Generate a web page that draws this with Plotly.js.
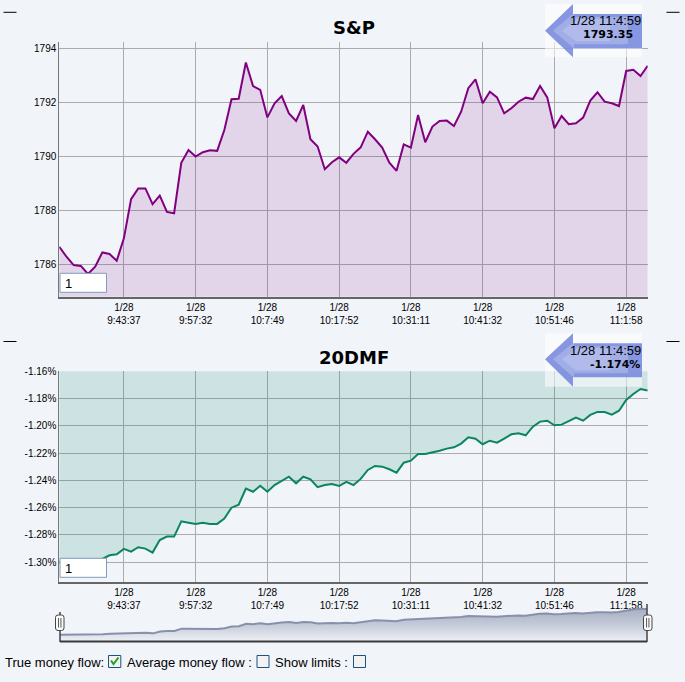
<!DOCTYPE html>
<html>
<head>
<meta charset="utf-8">
<script src="https://cdn.plot.ly/plotly-3.0.1.min.js"></script>
<style>
  html, body { margin: 0; padding: 0; background: #f1f4f9; }
  #chart { width: 685px; height: 682px; }
</style>
</head>
<body>
<div id="chart"></div>
<script>
// ---------- DATA ----------
const spxValues = [
  1786.65, 1786.28, 1785.97, 1785.94, 1785.64, 1785.91, 1786.44, 1786.38, 1786.13, 1786.96,
  1788.41, 1788.81, 1788.81, 1788.23, 1788.54, 1787.94, 1787.89, 1789.76, 1790.23, 1789.99,
  1790.15, 1790.22, 1790.20, 1790.97, 1792.11, 1792.13, 1793.47, 1792.60, 1792.46, 1791.44,
  1791.96, 1792.23, 1791.59, 1791.31, 1791.90, 1790.63, 1790.36, 1789.52, 1789.78, 1789.96,
  1789.76, 1790.09, 1790.33, 1790.91, 1790.63, 1790.32, 1789.76, 1789.46, 1790.44, 1790.32,
  1791.53, 1790.52, 1791.10, 1791.31, 1791.32, 1791.12, 1791.65, 1792.52, 1792.85, 1791.96,
  1792.39, 1792.18, 1791.59, 1791.78, 1792.02, 1792.17, 1792.12, 1792.60, 1792.18, 1791.04,
  1791.49, 1791.19, 1791.22, 1791.43, 1792.06, 1792.37, 1792.02, 1791.96, 1791.86, 1793.16,
  1793.20, 1792.97, 1793.35
];
const dmfValues = [
  -1.3000, -1.3000, -1.3010, -1.3000, -1.2990, -1.2980, -1.2976, -1.2949, -1.2942, -1.2902,
  -1.2922, -1.2890, -1.2900, -1.2929, -1.2837, -1.2812, -1.2812, -1.2700, -1.2710, -1.2719,
  -1.2710, -1.2719, -1.2719, -1.2680, -1.2600, -1.2578, -1.2460, -1.2483, -1.2439, -1.2483,
  -1.2434, -1.2402, -1.2373, -1.2421, -1.2373, -1.2392, -1.2450, -1.2434, -1.2426, -1.2441,
  -1.2411, -1.2434, -1.2389, -1.2323, -1.2294, -1.2299, -1.2318, -1.2343, -1.2270, -1.2255,
  -1.2206, -1.2206, -1.2196, -1.2182, -1.2167, -1.2157, -1.2130, -1.2084, -1.2094, -1.2135,
  -1.2109, -1.2123, -1.2094, -1.2062, -1.2054, -1.2069, -1.2006, -1.1969, -1.1962, -1.1996,
  -1.1991, -1.1967, -1.1940, -1.1962, -1.1920, -1.1898, -1.1898, -1.1918, -1.1889, -1.1810,
  -1.1766, -1.1730, -1.1740
];
const tickIndex = [9, 19, 29, 39, 49, 59, 69, 79];
const tickDate = '1/28';
const tickTimes = ['9:43:37', '9:57:32', '10:7:49', '10:17:52', '10:31:11', '10:41:32', '10:51:46', '11:1:58'];
const spxTicks = [1786, 1788, 1790, 1792, 1794];
const dmfTicks = [-1.16, -1.18, -1.20, -1.22, -1.24, -1.26, -1.28, -1.30];
const lastStamp = '1/28 11:4:59';
const spxLast = '1793.35';
const dmfLast = '-1.174%';
const titles = ['S&P', '20DMF'];
const optionLabels = ['True money flow:', 'Average money flow :', 'Show limits :'];

// ---------- HELPERS ----------
const W = 685, H = 682;
const BG = '#f1f4f9';
const px = x => x / W;
const py = y => 1 - y / H;
const idx = spxValues.map((_, i) => i);
const xTickText = tickTimes.map(t => tickDate + '<br>' + t);
const tickFont = { family: 'Liberation Sans, Arial, sans-serif', size: 10, color: '#000' };
const navRange = [-1.3325, -1.150];

const xCommon = {
  range: [0, 82], tickvals: tickIndex, ticktext: xTickText,
  showgrid: true, gridcolor: '#ababab', gridwidth: 1,
  showline: true, linecolor: '#666', linewidth: 2,
  ticks: '', zeroline: false, tickfont: tickFont, fixedrange: true
};

const traces = [
  { x: idx, y: spxValues, xaxis: 'x', yaxis: 'y', type: 'scatter', mode: 'lines',
    line: { color: '#800080', width: 2 }, fill: 'tozeroy', fillcolor: 'rgba(128,0,128,0.13)', hoverinfo: 'skip' },
  { x: idx, y: dmfValues, xaxis: 'x2', yaxis: 'y2', type: 'scatter', mode: 'lines',
    line: { color: '#0a8560', width: 2 }, fill: 'tozeroy', fillcolor: 'rgba(0,128,96,0.15)', hoverinfo: 'skip' },
  // navigator: floor of the navigator axis, then the series filled down to it
  { x: idx, y: idx.map(() => navRange[0]), xaxis: 'x3', yaxis: 'y3', type: 'scatter', mode: 'lines',
    line: { width: 0, color: 'rgba(0,0,0,0)' }, hoverinfo: 'skip' },
  { x: idx, y: dmfValues, xaxis: 'x3', yaxis: 'y3', type: 'scatter', mode: 'lines',
    line: { color: '#8890aa', width: 2 }, fill: 'tonexty', fillcolor: '#b4bbcc',
    fillgradient: { type: 'vertical', start: navRange[0], stop: -1.165,
      colorscale: [[0, '#eef0f5'], [0.5, '#c4cad8'], [1, '#a3abbf']] },
    hoverinfo: 'skip' }
];

const shapes = [];
// navigator frame
shapes.push({ type: 'line', xref: 'paper', yref: 'paper', x0: px(60), x1: px(60), y0: py(612), y1: py(642), line: { color: '#444', width: 1.5 } });
shapes.push({ type: 'line', xref: 'paper', yref: 'paper', x0: px(647), x1: px(647), y0: py(604), y1: py(642), line: { color: '#444', width: 1.5 } });
shapes.push({ type: 'line', xref: 'paper', yref: 'paper', x0: px(60), x1: px(647), y0: py(641.5), y1: py(641.5), line: { color: '#3a3a3a', width: 2 } });
// handles (rounded)
function roundRect(x0, y0, x1, y1, r) {
  const P = (x, y) => px(x) + ',' + py(y);
  return 'M' + P(x0 + r, y0) + ' L' + P(x1 - r, y0) + ' Q' + P(x1, y0) + ' ' + P(x1, y0 + r) +
    ' L' + P(x1, y1 - r) + ' Q' + P(x1, y1) + ' ' + P(x1 - r, y1) + ' L' + P(x0 + r, y1) +
    ' Q' + P(x0, y1) + ' ' + P(x0, y1 - r) + ' L' + P(x0, y0 + r) + ' Q' + P(x0, y0) + ' ' + P(x0 + r, y0) + ' Z';
}
[[55.5, 64], [643.5, 652]].forEach(([a, b]) => {
  const c = (a + b) / 2;
  shapes.push({ type: 'path', xref: 'paper', yref: 'paper', path: roundRect(a, 615, b, 630.5, 2.5),
    fillcolor: '#fbfbfb', line: { color: '#444', width: 1 } });
  shapes.push({ type: 'line', xref: 'paper', yref: 'paper', x0: px(c - 1.2), x1: px(c - 1.2), y0: py(627.5), y1: py(618), line: { color: '#555', width: 1 } });
  shapes.push({ type: 'line', xref: 'paper', yref: 'paper', x0: px(c + 1.2), x1: px(c + 1.2), y0: py(627.5), y1: py(618), line: { color: '#555', width: 1 } });
});
// corner dashes
[12.3, 341.5].forEach(y => {
  shapes.push({ type: 'line', xref: 'paper', yref: 'paper', x0: px(3.5), x1: px(16.5), y0: py(y), y1: py(y), line: { color: '#000', width: 1 } });
  shapes.push({ type: 'line', xref: 'paper', yref: 'paper', x0: px(666.5), x1: px(679.5), y0: py(y), y1: py(y), line: { color: '#000', width: 1 } });
});
// input boxes
[[273.3, 292.3], [558.3, 577.3]].forEach(([t, b]) => {
  shapes.push({ type: 'rect', xref: 'paper', yref: 'paper', x0: px(60), x1: px(106.5), y0: py(b), y1: py(t),
    fillcolor: '#ffffff', line: { color: '#7f9db9', width: 1 } });
});
// arrow callouts
function arrowPath(tipX, tipY, headX, headTop, headBot, shaftTop, shaftBot, endX) {
  const P = (x, y) => px(x) + ',' + py(y);
  return 'M' + P(tipX, tipY) + ' L' + P(headX, headTop) + ' L' + P(headX, shaftTop) + ' L' + P(endX, shaftTop) +
         ' L' + P(endX, shaftBot) + ' L' + P(headX, shaftBot) + ' L' + P(headX, headBot) + ' Z';
}
[[4, 57.3, 30.7, 14, 48.3], [333.3, 386.7, 359.3, 343.3, 377.3]].forEach(([bt, bb, tip, st, sb]) => {
  shapes.push({ type: 'rect', xref: 'paper', yref: 'paper', layer: 'above', x0: px(545), x1: px(642), y0: py(bb), y1: py(bt),
    fillcolor: 'rgba(255,255,255,0.55)', line: { width: 0 } });
  shapes.push({ type: 'path', xref: 'paper', yref: 'paper', layer: 'above', path: arrowPath(545, tip, 573, bt, bb, st, sb, 642),
    fillcolor: 'rgba(105,125,218,0.80)', line: { width: 0 } });
  shapes.push({ type: 'path', xref: 'paper', yref: 'paper', layer: 'above', path: arrowPath(553, tip, 574, bt + 9, bb - 9, st + 3, sb - 4, 628),
    fillcolor: 'rgba(255,255,255,0.22)', line: { width: 0 } });
  shapes.push({ type: 'path', xref: 'paper', yref: 'paper', layer: 'above', path: arrowPath(562, tip, 576, bt + 16, bb - 16, st + 5, sb - 7, 610),
    fillcolor: 'rgba(255,255,255,0.18)', line: { width: 0 } });
});
// checkboxes
[[108.5, 120.8], [257, 269], [353.5, 365.5]].forEach(([a, b]) => {
  shapes.push({ type: 'rect', xref: 'paper', yref: 'paper', x0: px(a), x1: px(b), y0: py(667.5), y1: py(655.5),
    fillcolor: '#f2f2f2', line: { color: '#1c5180', width: 1 } });
});
shapes.push({ type: 'path', xref: 'paper', yref: 'paper',
  path: 'M' + px(111) + ',' + py(660.5) + ' L' + px(113.5) + ',' + py(664) + ' L' + px(118.5) + ',' + py(657.5),
  line: { color: '#21a121', width: 2 } });

const ann = (text, x, y, opts) => Object.assign({ text, x: px(x), y: py(y), xref: 'paper', yref: 'paper', showarrow: false,
  xanchor: 'center', yanchor: 'middle', font: { family: 'Liberation Sans, Arial, sans-serif', size: 13, color: '#000' } }, opts || {});

const annotations = [
  ann(titles[0], 353.5, 27.5, { font: { family: 'DejaVu Sans, sans-serif', size: 18, color: '#000', weight: 'bold' } }),
  ann(titles[1], 354, 357, { font: { family: 'DejaVu Sans, sans-serif', size: 18, color: '#000', weight: 'bold' } }),
  ann('1', 62.5, 283, { xanchor: 'left', font: { family: 'Liberation Sans, Arial, sans-serif', size: 13, color: '#000' } }),
  ann('1', 62.5, 568, { xanchor: 'left', font: { family: 'Liberation Sans, Arial, sans-serif', size: 13, color: '#000' } }),
  ann(lastStamp, 643, 20.5, { xanchor: 'right', font: { family: 'Liberation Sans, Arial, sans-serif', size: 13, color: '#000' } }),
  ann('<b>' + spxLast + '</b>', 634.5, 34.5, { xanchor: 'right', font: { family: 'DejaVu Sans, sans-serif', size: 11, color: '#000' } }),
  ann(lastStamp, 643, 350, { xanchor: 'right', font: { family: 'Liberation Sans, Arial, sans-serif', size: 13, color: '#000' } }),
  ann('<b>' + dmfLast + '</b>', 641.5, 364, { xanchor: 'right', font: { family: 'DejaVu Sans, sans-serif', size: 11, color: '#000' } }),
  ann(optionLabels[0], 3, 662.5, { xanchor: 'left' }),
  ann(optionLabels[1], 124.5, 662.5, { xanchor: 'left' }),
  ann(optionLabels[2], 272.5, 662.5, { xanchor: 'left' })
];

const layout = {
  width: W, height: H,
  margin: { l: 0, r: 0, t: 0, b: 0, pad: 0 },
  paper_bgcolor: BG, plot_bgcolor: 'rgba(0,0,0,0)',
  showlegend: false,
  xaxis: Object.assign({}, xCommon, { domain: [px(59.3), px(647.7)], anchor: 'y' }),
  yaxis: { domain: [py(296.7), py(42.3)], range: [1784.8, 1794.22], tickvals: spxTicks, ticktext: spxTicks.map(String),
    showgrid: true, gridcolor: '#ababab', showline: true, linecolor: '#777', linewidth: 1, ticks: '', zeroline: false,
    tickfont: tickFont, fixedrange: true, anchor: 'x' },
  xaxis2: Object.assign({}, xCommon, { domain: [px(59.3), px(647.7)], anchor: 'y2' }),
  yaxis2: { domain: [py(582.3), py(371.3)], range: [-1.3147, -1.16], tickvals: dmfTicks, ticktext: dmfTicks.map(v => v.toFixed(2) + '%'),
    showgrid: true, gridcolor: '#ababab', showline: true, linecolor: '#777', linewidth: 1, ticks: '', zeroline: false,
    tickfont: tickFont, fixedrange: true, anchor: 'x2' },
  xaxis3: { domain: [px(60), px(647)], range: [0, 82], visible: false, anchor: 'y3', fixedrange: true },
  yaxis3: { domain: [py(641.5), py(604)], range: navRange, visible: false, anchor: 'x3', fixedrange: true },
  shapes, annotations
};

Plotly.newPlot('chart', traces, layout, { displayModeBar: false, staticPlot: true });
</script>
</body>
</html>
